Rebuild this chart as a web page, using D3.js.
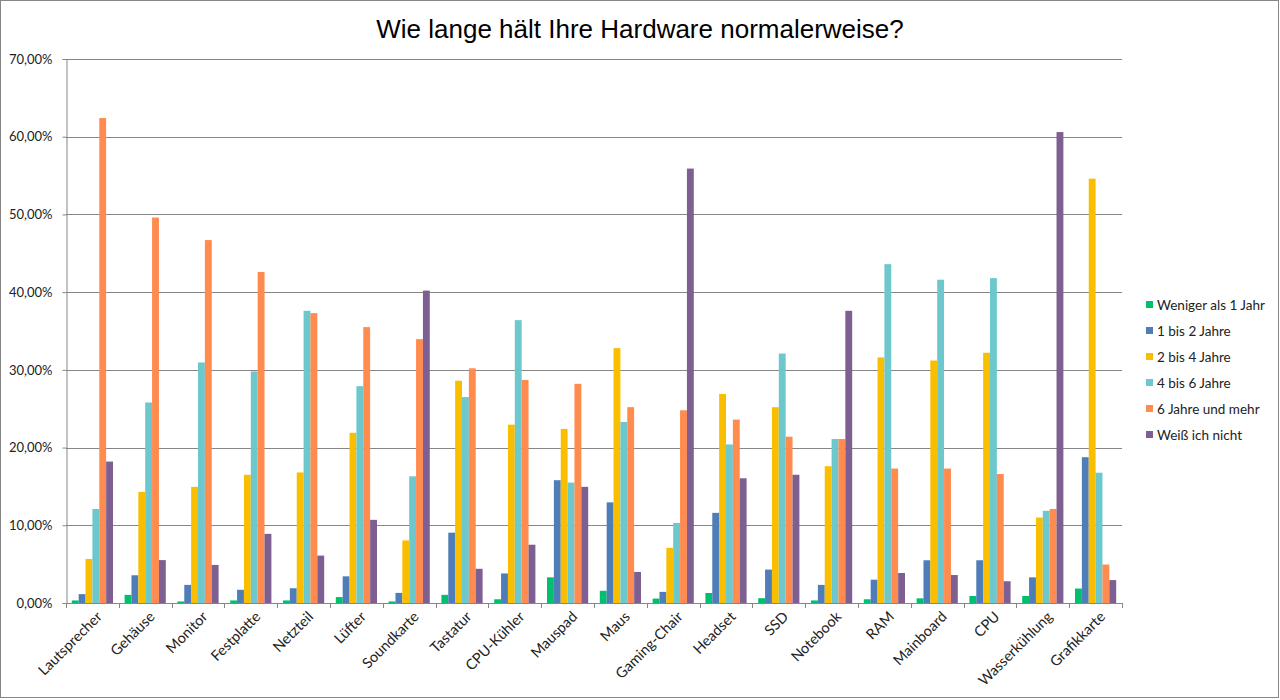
<!DOCTYPE html>
<html>
<head>
<meta charset="utf-8">
<script src="https://cdn.jsdelivr.net/npm/d3@7"></script>
<style>
    body { margin: 0; background: #fff; }
    svg { display: block; }
</style>
</head>
<body>
<svg id="chart" width="1280" height="700"></svg>
<script>

// categories (x axis)
const categories = ['Lautsprecher', 'Gehäuse', 'Monitor', 'Festplatte', 'Netzteil', 'Lüfter', 'Soundkarte',
    'Tastatur', 'CPU-Kühler', 'Mauspad', 'Maus', 'Gaming-Chair', 'Headset', 'SSD', 'Notebook', 'RAM',
    'Mainboard', 'CPU', 'Wasserkühlung', 'Grafikkarte'];

const seriesNames = ['Weniger als 1 Jahr', '1 bis 2 Jahre', '2 bis 4 Jahre', '4 bis 6 Jahre',
    '6 Jahre und mehr', 'Weiß ich nicht'];
const seriesColors = ['#00BF6F', '#4F7DB8', '#F9BE00', '#6DC8CD', '#FF8B4F', '#7E5F92'];

// values in percent, one array per series, in category order
const lessThan1 = [0.33, 1.05, 0.2, 0.33, 0.33, 0.76, 0.2, 1.05, 0.48, 3.3, 1.57, 0.57, 1.29, 0.62, 0.33, 0.48, 0.6, 0.9, 0.9, 1.86];
const oneToTwo = [1.14, 3.57, 2.33, 1.7, 1.9, 3.43, 1.3, 9.05, 3.8, 15.8, 12.95, 1.43, 11.6, 4.3, 2.33, 3.0, 5.5, 5.5, 3.3, 18.76];
const twoToFour = [5.67, 14.3, 14.95, 16.5, 16.8, 21.9, 8.05, 28.6, 22.95, 22.4, 32.8, 7.1, 26.9, 25.2, 17.6, 31.6, 31.2, 32.2, 11.0, 54.6];
const fourToSix = [12.1, 25.8, 30.95, 29.8, 37.6, 27.9, 16.3, 26.5, 36.4, 15.5, 23.3, 10.3, 20.4, 32.1, 21.1, 43.6, 41.6, 41.8, 11.86, 16.76];
const sixPlus = [62.4, 49.6, 46.7, 42.6, 37.3, 35.5, 33.95, 30.2, 28.7, 28.2, 25.2, 24.8, 23.6, 21.4, 21.1, 17.3, 17.3, 16.6, 12.1, 4.95];
const dontKnow = [18.2, 5.52, 4.9, 8.9, 6.1, 10.7, 40.2, 4.4, 7.5, 14.95, 4.0, 55.9, 16.05, 16.5, 37.6, 3.86, 3.6, 2.8, 60.6, 2.95];

const yTicks = [0, 10, 20, 30, 40, 50, 60, 70];

const allSeries = [lessThan1, oneToTwo, twoToFour, fourToSix, sixPlus, dontKnow];

const svg = d3.select('#chart');

// outer frame
svg.append('rect')
    .attr('x', 0.5).attr('y', 0.5)
    .attr('width', 1278).attr('height', 697)
    .attr('fill', '#fff')
    .attr('stroke', '#868686');

// title
svg.append('text')
    .attr('x', 640).attr('y', 38)
    .attr('text-anchor', 'middle')
    .style('font-family', '"Liberation Sans", Arial, sans-serif')
    .style('font-size', '26px')
    .attr('fill', '#000')
    .text('Wie lange hält Ihre Hardware normalerweise?');

const plot = {left: 66, right: 1122, top: 59, bottom: 603};

const x = d3.scaleBand().domain(categories).range([plot.left, plot.right]).paddingInner(0.22).paddingOuter(0.11);
const xs = d3.scaleBand().domain(d3.range(seriesNames.length)).range([0, x.bandwidth()]);
const y = d3.scaleLinear().domain([0, 70]).range([plot.bottom, plot.top]);

// gridlines
svg.append('g')
    .selectAll('line')
    .data(yTicks.slice(1))
    .enter()
    .append('line')
    .attr('x1', plot.left).attr('x2', plot.right)
    .attr('y1', d => Math.round(y(d)) + 0.5)
    .attr('y2', d => Math.round(y(d)) + 0.5)
    .attr('stroke', '#868686');

// bars
const groups = svg.append('g')
    .selectAll('g')
    .data(categories)
    .enter()
    .append('g')
    .attr('transform', d => `translate(${x(d)},0)`);

groups.selectAll('rect')
    .data((d, i) => allSeries.map((s, k) => ({k: k, v: s[i]})))
    .enter()
    .append('rect')
    .attr('x', d => xs(d.k))
    .attr('width', xs.bandwidth())
    .attr('y', d => y(d.v))
    .attr('height', d => plot.bottom - y(d.v))
    .attr('fill', d => seriesColors[d.k]);

// y axis
const yAxis = d3.axisLeft(y)
    .tickValues(yTicks)
    .tickSize(4)
    .tickPadding(10)
    .tickFormat(d => d3.format('.2f')(d).replace('.', ',') + '%');

const gy = svg.append('g')
    .attr('transform', `translate(${plot.left + 0.5},0)`)
    .call(yAxis);
gy.select('.domain').attr('stroke', '#868686');
gy.selectAll('.tick line').attr('stroke', '#868686');
gy.selectAll('.tick text')
    .attr('fill', '#222')
    .style('font-family', 'Lato, "Open Sans", sans-serif')
    .style('font-size', '13px');

// x axis line and boundary ticks
const gx = svg.append('g');
gx.append('line')
    .attr('x1', plot.left).attr('x2', plot.right)
    .attr('y1', plot.bottom + 0.5).attr('y2', plot.bottom + 0.5)
    .attr('stroke', '#868686');

const step = (plot.right - plot.left) / categories.length;
gx.selectAll('.xtick')
    .data(d3.range(categories.length + 1))
    .enter()
    .append('line')
    .attr('x1', d => Math.round(plot.left + d * step) + 0.5)
    .attr('x2', d => Math.round(plot.left + d * step) + 0.5)
    .attr('y1', plot.bottom)
    .attr('y2', plot.bottom + 5)
    .attr('stroke', '#868686');

gx.selectAll('.xlabel')
    .data(categories)
    .enter()
    .append('text')
    .attr('transform', d => `translate(${x(d) + x.bandwidth() / 2 + 7},${plot.bottom + 11}) rotate(-45)`)
    .attr('text-anchor', 'end')
    .attr('dy', '0.35em')
    .attr('fill', '#222')
    .style('font-family', 'Lato, "Open Sans", sans-serif')
    .style('font-size', '14.5px')
    .text(d => d);

// legend
const legend = svg.append('g')
    .selectAll('g')
    .data(seriesNames)
    .enter()
    .append('g')
    .attr('transform', (d, i) => `translate(1146,${305 + i * 26})`);

legend.append('rect')
    .attr('x', 0).attr('y', -4)
    .attr('width', 7).attr('height', 7)
    .attr('fill', (d, i) => seriesColors[i]);

legend.append('text')
    .attr('x', 11).attr('y', 0)
    .attr('dy', '0.35em')
    .attr('fill', '#222')
    .style('font-family', 'Lato, "Open Sans", sans-serif')
    .style('font-size', '13.5px')
    .text(d => d);

</script>
</body>
</html>
